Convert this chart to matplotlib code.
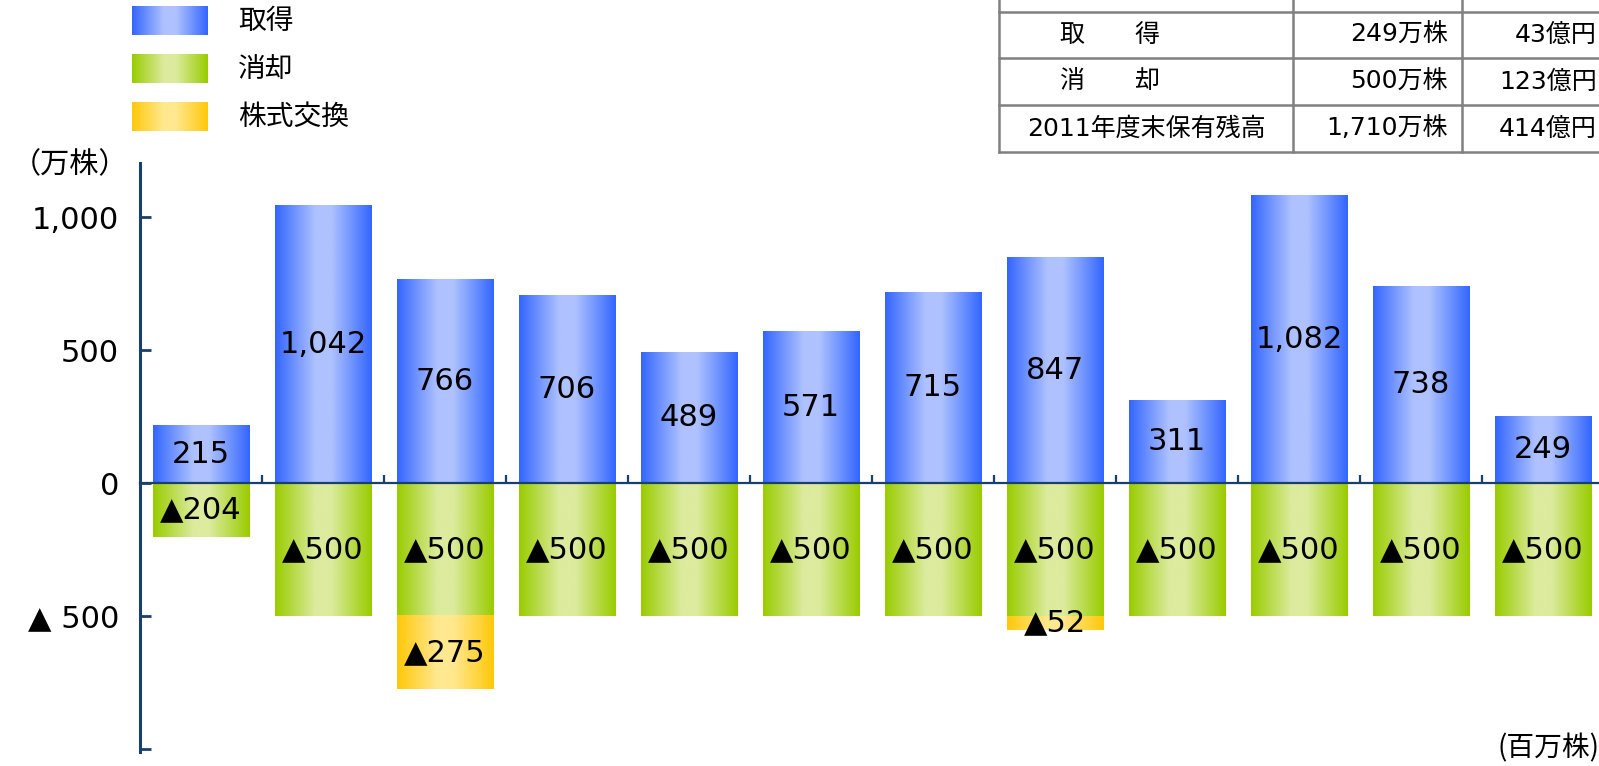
import numpy as np
import matplotlib
matplotlib.use('Agg')
import matplotlib.pyplot as plt
from matplotlib.colors import LinearSegmentedColormap
from matplotlib.lines import Line2D

plt.rcParams['font.family'] = ['Noto Sans CJK JP', 'DejaVu Sans']
NUM_FONT = ['DejaVu Sans', 'Noto Sans CJK JP']  # wider digits, like the original

# Data (万株)
acquired = [215, 1042, 766, 706, 489, 571, 715, 847, 311, 1082, 738, 249]
retired = [-204, -500, -500, -500, -500, -500, -500, -500, -500, -500, -500, -500]
exchanged = [0, 0, -275, 0, 0, 0, 0, -52, 0, 0, 0, 0]
legend_labels = ['取得', '消却', '株式交換']
ytick_values = [-1000, -500, 0, 500, 1000]
ytick_labels = ['', '▲ 500', '0', '500', '1,000']

# Summary table (top row is cut off in the original)
table_col1 = ['2010年度末保有残高', '取　　得', '消　　却', '2011年度末保有残高']
table_col2 = ['1,961万株', '249万株', '500万株', '1,710万株']
table_col3 = ['494億円', '43億円', '123億円', '414億円']

W, H = 1599, 766
NAVY = '#17406D'

cmap_blue = LinearSegmentedColormap.from_list('b', [(0, '#3366FF'), (0.42, '#AFC2FF'), (0.58, '#AFC2FF'), (1, '#3366FF')])
cmap_green = LinearSegmentedColormap.from_list('g', [(0, '#99CC00'), (0.42, '#DCEB9E'), (0.58, '#DCEB9E'), (1, '#99CC00')])
cmap_yellow = LinearSegmentedColormap.from_list('y', [(0, '#FFC80A'), (0.42, '#FFE88F'), (0.58, '#FFE88F'), (1, '#FFC80A')])
GRAD = np.linspace(0, 1, 256).reshape(1, -1)


def fx(x):
    return x / W


def fy(y):
    return 1 - y / H


def gradient_bars(ax, bars, cmap):
    # paint each bar rectangle with a horizontal gradient
    for p in bars.patches:
        if p.get_height() == 0:
            continue
        x0, y0 = p.get_x(), p.get_y()
        ax.imshow(GRAD, cmap=cmap, extent=[x0, x0 + p.get_width(), y0, y0 + p.get_height()],
                  aspect='auto', interpolation='bilinear', zorder=1)


fig = plt.figure(figsize=(W / 100, H / 100), dpi=100)
ax = fig.add_axes([fx(140), fy(752), fx(1464), (752 - 163) / H])

x = np.arange(len(acquired))
bw = 0.795
b1 = ax.bar(x, acquired, width=bw, color='none')
b2 = ax.bar(x, retired, width=bw, color='none')
b3 = ax.bar(x, exchanged, width=bw, bottom=retired, color='none')
gradient_bars(ax, b1, cmap_blue)
gradient_bars(ax, b2, cmap_green)
gradient_bars(ax, b3, cmap_yellow)

for i in range(len(x)):
    ax.text(x[i], acquired[i] / 2, f'{acquired[i]:,}', ha='center', va='center', fontsize=22,
            family=NUM_FONT, zorder=3)
    ax.text(x[i], retired[i] / 2, '▲' + f'{-retired[i]:,}', ha='center', va='center', fontsize=22,
            family=NUM_FONT, zorder=3)
    if exchanged[i] != 0:
        ax.text(x[i], retired[i] + exchanged[i] / 2, '▲' + f'{-exchanged[i]:,}', ha='center', va='center',
                fontsize=22, family=NUM_FONT, zorder=3)

ax.set_xlim(-0.5, len(x) - 0.5)
ax.set_ylim(-1011, 1203)

for s in ['top', 'right']:
    ax.spines[s].set_visible(False)
ax.spines['left'].set_color(NAVY)
ax.spines['left'].set_linewidth(2.2)
ax.spines['bottom'].set_position(('data', 0))
ax.spines['bottom'].set_color(NAVY)
ax.spines['bottom'].set_linewidth(1.6)
ax.spines['bottom'].set_zorder(2.5)

ax.set_yticks(ytick_values)
ax.set_yticklabels(ytick_labels, fontsize=22, family=NUM_FONT)
ax.tick_params(axis='y', direction='in', length=8, width=2, color=NAVY, pad=15)
ax.set_xticks(x[:-1] + 0.5)
ax.set_xticklabels([])
ax.tick_params(axis='x', direction='in', length=6, width=1.6, color=NAVY)

fig.text(fx(70), fy(165), '（万株）', ha='center', va='center', fontsize=21)
fig.text(fx(1599), fy(748), '(百万株)', ha='right', va='center', fontsize=20)

# legend with gradient swatches
legend_cmaps = [cmap_blue, cmap_green, cmap_yellow]
legend_y = [6, 54, 102]
for lab, cm, ly in zip(legend_labels, legend_cmaps, legend_y):
    lax = fig.add_axes([fx(132), fy(ly + 29), fx(76), 29 / H])
    lax.imshow(GRAD, cmap=cm, aspect='auto', interpolation='bilinear')
    lax.axis('off')
    fig.text(fx(238), fy(ly + 15), lab, ha='left', va='center', fontsize=20)

# table
GRAY = '#808080'
row_lines = [-35, 12, 58, 105, 152]
col_lines = [999, 1293, 1462, 1615]
for ry in row_lines:
    fig.add_artist(Line2D([fx(col_lines[0]), fx(col_lines[-1])], [fy(ry), fy(ry)], color=GRAY, lw=1.8))
for cx in col_lines:
    fig.add_artist(Line2D([fx(cx), fx(cx)], [fy(row_lines[0]), fy(row_lines[-1])], color=GRAY, lw=1.8))
for r in range(len(table_col1)):
    cy = (row_lines[r] + row_lines[r + 1]) / 2
    fig.text(fx(1146 if r in (0, 3) else 1110), fy(cy), table_col1[r], ha='center', va='center',
             fontsize=18, family=NUM_FONT)
    fig.text(fx(col_lines[2] - 14), fy(cy), table_col2[r], ha='right', va='center', fontsize=18, family=NUM_FONT)
    fig.text(fx(col_lines[3] - 18), fy(cy), table_col3[r], ha='right', va='center', fontsize=18, family=NUM_FONT)

fig.savefig('out.png', dpi=100)
